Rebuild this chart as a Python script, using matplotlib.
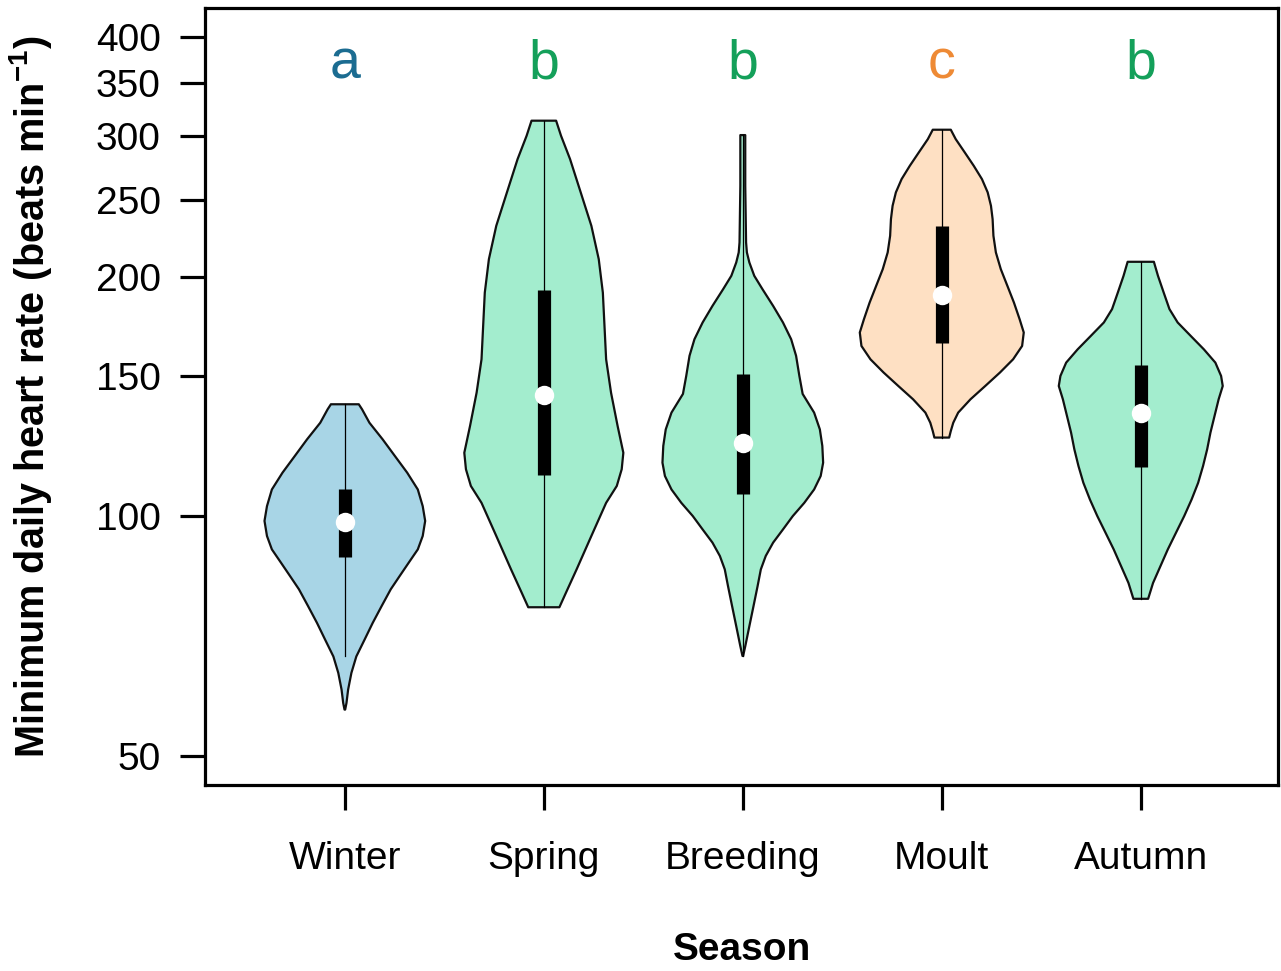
import matplotlib
matplotlib.use('Agg')
import matplotlib.pyplot as plt
from matplotlib.ticker import FixedLocator, NullLocator, FixedFormatter

plt.rcParams['font.family'] = ['Liberation Sans', 'DejaVu Sans']
plt.rcParams['mathtext.fontset'] = 'custom'
plt.rcParams['mathtext.rm'] = 'Liberation Sans:bold'
plt.rcParams['mathtext.default'] = 'rm'

seasons = ['Winter', 'Spring', 'Breeding', 'Moult', 'Autumn']
letters = ['a', 'b', 'b', 'c', 'b']

# violin outlines: heart rate and relative density
winter_hr = [138.3, 136.3, 131.1, 125.0, 119.1, 113.5, 108.1, 103.0, 98.7, 94.5, 90.9,
             87.5, 84.2, 81.0, 77.2, 73.5, 70.0, 66.7, 63.6, 60.6, 58.3, 57.2]
winter_dens = [0.17, 0.21, 0.30, 0.46, 0.61, 0.76, 0.89, 0.95, 0.98, 0.95, 0.89,
               0.78, 0.67, 0.56, 0.45, 0.34, 0.24, 0.14, 0.08, 0.04, 0.02, 0.004]

spring_hr = [314.0, 300.6, 281.0, 255.2, 231.7, 210.4, 191.0, 173.5, 157.5, 143.0,
             129.9, 120.2, 114.6, 109.2, 104.0, 94.5, 85.8, 80.2, 76.9]
spring_dens = [0.15, 0.21, 0.32, 0.45, 0.58, 0.67, 0.72, 0.74, 0.76, 0.82,
               0.90, 0.97, 0.95, 0.89, 0.76, 0.58, 0.40, 0.27, 0.19]

breeding_hr = [301.2, 260.1, 220.8, 214.5, 208.4, 200.5, 192.9, 183.8, 175.2, 166.9,
               159.1, 150.1, 142.5, 135.0, 128.6, 122.6, 116.8, 112.4, 108.1, 104.0,
               100.1, 96.3, 92.7, 89.2, 85.8, 81.7, 77.1, 72.8, 68.7, 66.8]
breeding_dens = [0.03, 0.03, 0.04, 0.05, 0.08, 0.14, 0.24, 0.37, 0.49, 0.59,
                 0.65, 0.69, 0.73, 0.87, 0.94, 0.97, 0.98, 0.95, 0.87, 0.75,
                 0.61, 0.49, 0.37, 0.28, 0.22, 0.18, 0.13, 0.08, 0.03, 0.004]

moult_hr = [305.9, 297.7, 286.5, 275.6, 265.2, 255.2, 245.5, 236.2, 225.1, 214.5, 204.4, 194.8,
            185.6, 176.8, 170.2, 163.7, 157.5, 151.6, 145.8, 140.3, 135.0, 131.1, 128.0, 125.6]
moult_dens = [0.11, 0.17, 0.28, 0.39, 0.49, 0.56, 0.60, 0.62, 0.63, 0.66, 0.72, 0.80,
              0.88, 0.95, 1.00, 0.98, 0.87, 0.71, 0.53, 0.35, 0.20, 0.14, 0.11, 0.09]

autumn_hr = [208.8, 200.5, 191.0, 182.1, 175.2, 168.5, 162.1, 156.0, 150.1, 145.8, 140.3, 133.7,
             127.4, 121.4, 115.7, 110.2, 105.0, 100.1, 95.4, 90.9, 86.6, 82.5, 78.8]
autumn_dens = [0.16, 0.21, 0.28, 0.35, 0.45, 0.61, 0.77, 0.91, 0.98, 1.00, 0.95, 0.90,
               0.85, 0.81, 0.76, 0.70, 0.62, 0.53, 0.43, 0.33, 0.24, 0.15, 0.09]

# box stats
whisk_lo = [66.7, 76.9, 66.8, 125.6, 78.8]
whisk_hi = [138.3, 314.0, 301.2, 305.9, 208.8]
q1 = [88.8, 112.7, 106.8, 165.0, 115.5]
median = [98.3, 142.1, 123.8, 189.6, 135.0]
q3 = [108.1, 192.4, 150.8, 231.7, 154.8]

yticks = [50, 100, 150, 200, 250, 300, 350, 400]

outlines = [(winter_hr, winter_dens), (spring_hr, spring_dens), (breeding_hr, breeding_dens),
            (moult_hr, moult_dens), (autumn_hr, autumn_dens)]
fills = ['#a8d5e6', '#a3edce', '#a3edce', '#fee0c3', '#a3edce']
letter_cols = ['#1b6c91', '#14a05a', '#14a05a', '#ee8a35', '#14a05a']

fig = plt.figure(figsize=(12.81, 9.71), dpi=100, facecolor='white')
ax = fig.add_axes([0.160, 0.1916, 0.8377, 0.8002])

half = 0.412
for i, (hr, dens) in enumerate(outlines):
    pos = i + 1
    left = [pos - half * d for d in dens]
    right = [pos + half * d for d in dens]
    ax.fill_betweenx(hr, left, right, facecolor=fills[i], edgecolor='none', zorder=1)
    ax.fill(left + right[::-1], hr + hr[::-1], facecolor='none', edgecolor='#111111',
            linewidth=1.6, zorder=2, joinstyle='round')
    ax.plot([pos, pos], [whisk_lo[i], whisk_hi[i]], color='black', linewidth=0.9, zorder=3)
    ax.plot([pos, pos], [q1[i], q3[i]], color='black', linewidth=9.5, solid_capstyle='butt', zorder=4)
    ax.plot(pos, median[i], 'o', color='white', markersize=14, markeredgewidth=0, zorder=5)
    ax.text(pos, 355, letters[i], color=letter_cols[i], fontsize=40, ha='center', va='baseline')

ax.set_yscale('log')
ax.set_ylim(46, 435)
ax.set_xlim(0.297, 5.69)
ax.yaxis.set_major_locator(FixedLocator(yticks))
ax.yaxis.set_major_formatter(FixedFormatter([str(t) for t in yticks]))
ax.yaxis.set_minor_locator(NullLocator())
ax.set_xticks(range(1, 6))
ax.set_xticklabels(seasons)

for s in ax.spines.values():
    s.set_linewidth(2.3)
ax.tick_params(axis='both', length=18, width=2.3, labelsize=28, color='black')
ax.tick_params(axis='x', pad=22)
ax.tick_params(axis='y', pad=14)

ax.set_ylabel('Minimum daily heart rate (beats min$^{-1}$)', fontsize=28.5, fontweight='bold', labelpad=30)
ax.set_xlabel('Season', fontsize=28, fontweight='bold', labelpad=40)

fig.savefig('out.png', dpi=100, facecolor='white')
